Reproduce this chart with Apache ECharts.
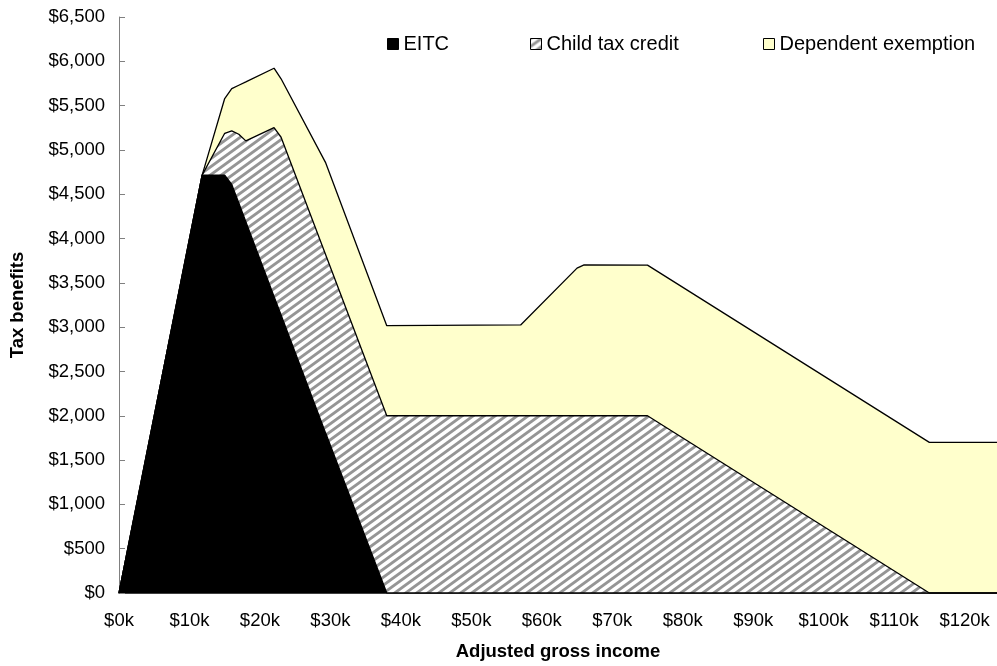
<!DOCTYPE html>
<html>
<head>
<meta charset="utf-8">
<script src="https://cdn.jsdelivr.net/npm/echarts@6/dist/echarts.min.js"></script>
<style>
  html, body { margin: 0; padding: 0; background: #fff; }
  #chart { width: 997px; height: 666px; }
</style>
</head>
<body>
<div id="chart"></div>
<script>
// Adjusted gross income sample points, in thousands of dollars
const incomeK = [0, 11.8, 15, 16, 17, 18, 22, 23, 29.3, 38, 57, 65, 66, 75, 115, 125];
// Benefit components in dollars at each income point (stacked in this order)
const eitc      = [0, 4716, 4716, 4610, 4400, 4190, 3347, 3136, 1810, 0, 0, 0, 0, 0, 0, 0];
const childCred = [0, 0, 472, 604, 777, 912, 1904, 2007, 2013, 2000, 2000, 2000, 2000, 2000, 0, 0];
const depExempt = [0, 0, 392, 477, 553, 666, 671, 660, 1037, 1017, 1025, 1666, 1703, 1700, 1700, 1700];

const seriesNames = ['EITC', 'Child tax credit', 'Dependent exemption'];
const xTicks = { min: 0, max: 124.6, step: 10 };
const yTicks = { min: 0, max: 6500, step: 500 };

// Diagonal gray/white stripe tile for the child tax credit band.
// Each stripe is drawn well past the tile edges so the repeat joins cleanly.
function stripeTile() {
  const w = 11, h = 8;
  const c = document.createElement('canvas');
  c.width = w; c.height = h;
  const g = c.getContext('2d');
  g.fillStyle = '#ffffff';
  g.fillRect(0, 0, w, h);
  g.strokeStyle = '#959595';
  g.lineWidth = 2.9;
  g.lineCap = 'square';
  for (let k = -2; k <= 2; k++) {
    const y = x => h - (h / w) * x + k * h;
    g.beginPath();
    g.moveTo(-2 * w, y(-2 * w));
    g.lineTo(3 * w, y(3 * w));
    g.stroke();
  }
  return c;
}
const stripes = { image: stripeTile(), repeat: 'repeat' };
const fills = ['#000000', stripes, '#ffffcc'];

// Running totals: each band sits on top of the ones listed before it
const components = [eitc, childCred, depExempt];
const cumulative = [];
components.forEach((arr, k) => {
  cumulative.push(arr.map((v, i) => v + (k > 0 ? cumulative[k - 1][i] : 0)));
});
const pairs = arr => arr.map((v, i) => [incomeK[i], v]);

const font = 'Liberation Sans, Arial, sans-serif';

const chart = echarts.init(document.getElementById('chart'), null, { renderer: 'canvas' });

const legendAt = [387, 530, 763];
const legends = seriesNames.map((name, i) => ({
  left: legendAt[i],
  top: 34,
  padding: 0,
  itemWidth: 11,
  itemHeight: 11,
  icon: 'rect',
  textStyle: { fontFamily: font, fontSize: 20, color: '#000' },
  data: [{
    name,
    icon: 'rect',
    itemStyle: { color: fills[i], borderColor: '#000', borderWidth: 1 }
  }],
  selectedMode: false
}));

chart.setOption({
  animation: false,
  backgroundColor: '#fff',
  legend: legends,
  grid: { left: 119, right: 0, top: 17, bottom: 69 },
  xAxis: {
    type: 'value',
    min: xTicks.min,
    max: xTicks.max,
    interval: xTicks.step,
    name: 'Adjusted gross income',
    nameLocation: 'middle',
    nameGap: 49,
    nameTextStyle: { fontFamily: font, fontSize: 18.5, fontWeight: 'bold', color: '#000' },
    axisLine: { lineStyle: { color: '#000', width: 1.5 } },
    axisTick: { inside: true, length: 6, lineStyle: { color: '#808080' } },
    axisLabel: {
      margin: 18,
      fontFamily: font, fontSize: 18.5, color: '#000',
      showMaxLabel: false,
      formatter: v => '$' + v + 'k'
    },
    splitLine: { show: false }
  },
  yAxis: {
    type: 'value',
    min: yTicks.min,
    max: yTicks.max,
    interval: yTicks.step,
    name: 'Tax benefits',
    nameLocation: 'middle',
    nameGap: 92,
    nameTextStyle: { fontFamily: font, fontSize: 18.5, fontWeight: 'bold', color: '#000' },
    axisLine: { show: true, lineStyle: { color: '#808080', width: 1 } },
    axisTick: { show: true, inside: true, length: 6, lineStyle: { color: '#808080' } },
    axisLabel: {
      margin: 14,
      fontFamily: font, fontSize: 18.5, color: '#000',
      formatter: v => '$' + v.toLocaleString('en-US')
    },
    splitLine: { show: false }
  },
  series: seriesNames.map((name, i) => ({
    name,
    type: 'line',
    data: pairs(cumulative[i]),
    symbol: 'none',
    smooth: false,
    clip: true,
    itemStyle: { color: fills[i], borderColor: '#000', borderWidth: 1 },
    lineStyle: { color: '#000', width: 1.3 },
    areaStyle: { color: fills[i], opacity: 1 },
    z: 6 - i
  }))
});
</script>
</body>
</html>
